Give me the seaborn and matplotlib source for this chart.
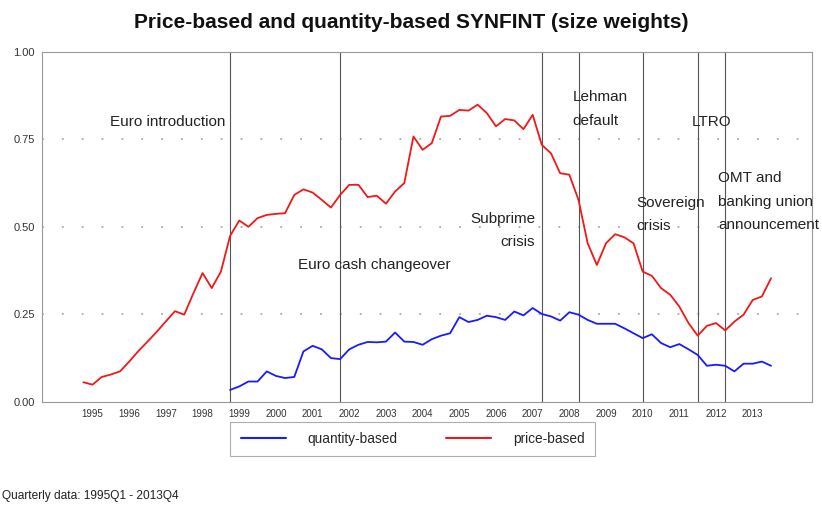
import numpy as np
import pandas as pd
import matplotlib
matplotlib.use("Agg")
import matplotlib.pyplot as plt
import seaborn as sns
from matplotlib.lines import Line2D

# quarterly data 1995Q1 - 2013Q4
quarters = pd.period_range("1995Q1", "2013Q4", freq="Q")

price_based = [
    0.056, 0.049, 0.071, 0.078,
    0.087, 0.115, 0.145, 0.172,
    0.200, 0.230, 0.259, 0.249,
    0.310, 0.368, 0.325, 0.372,
    0.474, 0.518, 0.500, 0.525,
    0.534, 0.537, 0.539, 0.591,
    0.607, 0.598, 0.577, 0.555,
    0.591, 0.620, 0.620, 0.585,
    0.589, 0.566, 0.601, 0.625,
    0.758, 0.720, 0.739, 0.815,
    0.817, 0.834, 0.832, 0.849,
    0.825, 0.787, 0.808, 0.804,
    0.779, 0.820, 0.734, 0.710,
    0.653, 0.649, 0.577, 0.453,
    0.391, 0.453, 0.479, 0.470,
    0.453, 0.372, 0.360, 0.325,
    0.306, 0.272, 0.225, 0.189,
    0.217, 0.225, 0.204, 0.229,
    0.249, 0.291, 0.301, 0.353,
]

# quantity-based only available from 1999Q1
quantity_based = [
    0.034, 0.044, 0.058, 0.058,
    0.087, 0.074, 0.068, 0.071,
    0.144, 0.160, 0.150, 0.125,
    0.122, 0.150, 0.163, 0.171,
    0.170, 0.172, 0.198, 0.172,
    0.171, 0.163, 0.179, 0.189,
    0.196, 0.242, 0.228, 0.234,
    0.246, 0.242, 0.234, 0.258,
    0.247, 0.268, 0.251, 0.244,
    0.232, 0.256, 0.249, 0.234,
    0.223, 0.223, 0.223, 0.210,
    0.196, 0.182, 0.193, 0.168,
    0.156, 0.165, 0.150, 0.134,
    0.103, 0.106, 0.103, 0.087,
    0.109, 0.109, 0.115, 0.103,
]

events = ["Euro introduction", "Euro cash changeover", "Subprime\ncrisis", "Lehman\ndefault",
          "Sovereign\ncrisis", "LTRO", "OMT and\nbanking union\nannouncement"]
event_quarters = ["1999Q1", "2002Q1", "2007Q3", "2008Q3", "2010Q2", "2011Q4", "2012Q3"]
years = list(range(1995, 2014))


def to_year(p):
    return p.year + (p.quarter - 1) / 4


t = np.array([to_year(p) for p in quarters])
df = pd.DataFrame({
    "t": np.concatenate([t[-len(quantity_based):], t]),
    "value": quantity_based + price_based,
    "series": ["quantity-based"] * len(quantity_based) + ["price-based"] * len(price_based),
})

sns.set_style("white")
plt.rcParams["font.family"] = ["Liberation Sans", "DejaVu Sans"]

fig = plt.figure(figsize=(8.22, 5.08), dpi=100)
ax = fig.add_axes([0.051, 0.209, 0.937, 0.689])

colors = {"quantity-based": "#1a1aff", "price-based": "#f01818"}
sns.lineplot(data=df, x="t", y="value", hue="series", palette=colors, linewidth=1.3,
             ax=ax, legend=False, estimator=None)

# event lines
for q in event_quarters:
    ax.axvline(to_year(pd.Period(q, freq="Q")), color="#555555", lw=0.8, zorder=1)

ax.set_xlim(1993.87, 2014.87)
ax.set_ylim(0, 1)
ax.set_xlabel("")
ax.set_ylabel("")

# dotted grid
for v in [0.25, 0.5, 0.75]:
    ax.axhline(v, color="#aaaaaa", lw=1.3, linestyle=(0, (1, 10)), zorder=0)

ax.set_yticks([0, 0.25, 0.5, 0.75, 1.0])
ax.set_yticklabels(["0.00", "0.25", "0.50", "0.75", "1.00"], fontsize=8, color="#333333")
ax.tick_params(axis="y", length=0, pad=5)

# quarter ticks, year labels
ax.xaxis.remove_overlapping_locs = False
ax.set_xticks(t)
ax.set_xticklabels([])
ax.set_xticks([y + 0.25 for y in years], minor=True)
ax.set_xticklabels([str(y) for y in years], minor=True, fontsize=7, color="#333333")
ax.tick_params(axis="x", which="major", length=5, width=0.6, color="#777777", direction="out")
ax.tick_params(axis="x", which="minor", length=0, pad=5)

for s in ax.spines.values():
    s.set_color("#999999")
    s.set_linewidth(0.8)

# annotations
fs = 11
tc = "#222222"
ls = 1.85
ax.text(1998.86, 0.80, events[0], ha="right", va="center", fontsize=fs, color=tc)
ax.text(2000.85, 0.391, events[1], ha="left", va="center", fontsize=fs, color=tc)
ax.text(2007.32, 0.49, events[2], ha="right", va="center", ma="right", fontsize=fs, color=tc, linespacing=ls)
ax.text(2008.33, 0.837, events[3], ha="left", va="center", fontsize=fs, color=tc, linespacing=ls)
ax.text(2010.07, 0.536, events[4], ha="left", va="center", fontsize=fs, color=tc, linespacing=ls)
ax.text(2011.59, 0.80, events[5], ha="left", va="center", fontsize=fs, color=tc)
ax.text(2012.30, 0.572, events[6], ha="left", va="center", fontsize=fs, color=tc, linespacing=ls)

fig.text(0.5, 0.955, "Price-based and quantity-based SYNFINT (size weights)", ha="center", va="center",
         fontsize=15, fontweight="bold", color="#111111")

handles = [Line2D([], [], color=colors["quantity-based"], lw=1.5),
           Line2D([], [], color=colors["price-based"], lw=1.5)]
leg = fig.legend(handles, ["quantity-based", "price-based"], loc="center", bbox_to_anchor=(0.502, 0.136),
                 ncol=2, fontsize=9.8, handlelength=3.3, columnspacing=3.6, handletextpad=1.6,
                 fancybox=False, frameon=True, borderpad=0.75, borderaxespad=0)
leg.get_frame().set_edgecolor("#999999")
leg.get_frame().set_linewidth(0.8)

fig.text(0.003, 0.023, "Quarterly data: 1995Q1 - 2013Q4", ha="left", va="center", fontsize=8.6, color="#222222")

fig.savefig("out.png", dpi=100)
